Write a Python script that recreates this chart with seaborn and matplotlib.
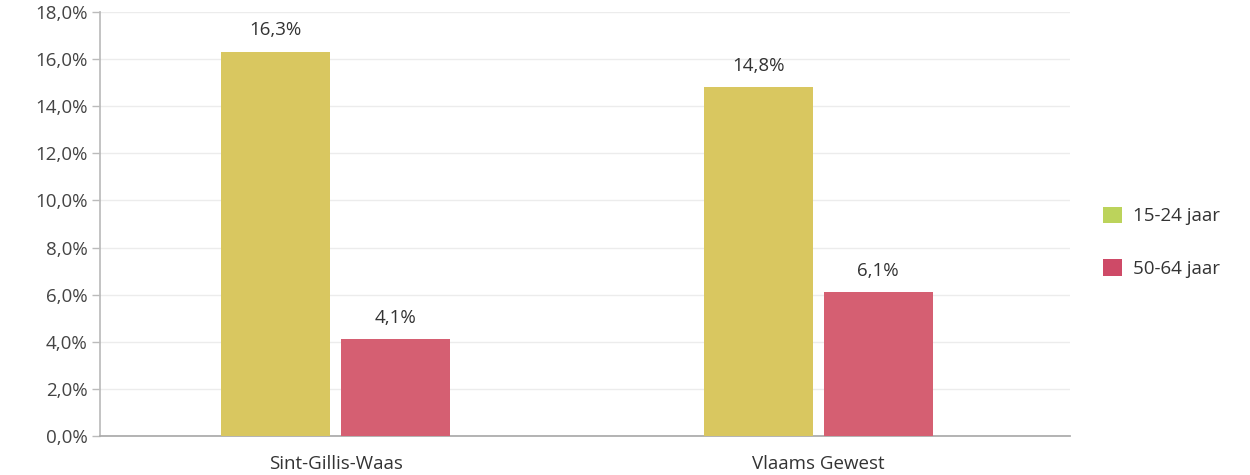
import matplotlib
matplotlib.use("Agg")
import matplotlib.pyplot as plt
from matplotlib.patches import Patch
import seaborn as sns
import pandas as pd

categories = ["Sint-Gillis-Waas", "Vlaams Gewest"]
groups = ["15-24 jaar", "50-64 jaar"]
values_15_24 = [16.3, 14.8]
values_50_64 = [4.1, 6.1]
yticks = [0, 2, 4, 6, 8, 10, 12, 14, 16, 18]

bar_colors = ["#D9C760", "#D55F72"]
legend_colors = ["#BCD35B", "#CE4A67"]

df = pd.DataFrame({
    "regio": categories * 2,
    "groep": [groups[0]] * 2 + [groups[1]] * 2,
    "waarde": values_15_24 + values_50_64,
})

sns.set_theme(style="white")
plt.rcParams["font.family"] = ["Open Sans", "DejaVu Sans"]

fig = plt.figure(figsize=(12.5, 4.75), dpi=100)
ax = fig.add_axes([0.08, 0.082, 0.776, 0.893])

sns.barplot(data=df, x="regio", y="waarde", hue="groep", palette=bar_colors,
            width=0.497, gap=0.091, ax=ax, legend=False, saturation=1, zorder=3,
            edgecolor="none", linewidth=0)

for c in ax.containers:
    labels = [f"{v:.1f}%".replace(".", ",") for v in c.datavalues]
    ax.bar_label(c, labels=labels, padding=9, fontsize=13.5, color="#333333")

ax.set_ylim(0, 18)
ax.set_xlim(-0.488, 1.522)
ax.set_yticks(yticks)
ax.set_yticklabels([f"{t:.1f}%".replace(".", ",") for t in yticks], fontsize=13.5, color="#444444")
ax.tick_params(axis="y", left=True, length=6, color="#BBBBBB", width=1, pad=3)
ax.tick_params(axis="x", bottom=False, labelsize=13.5, labelcolor="#333333", pad=8)
ax.set_xlabel("")
ax.set_ylabel("")
ax.yaxis.grid(True, color="#ECECEC", linewidth=1, zorder=0)
ax.set_axisbelow(True)
for s in ["top", "right"]:
    ax.spines[s].set_visible(False)
ax.spines["left"].set_color("#BBBBBB")
ax.spines["bottom"].set_color("#AAAAAA")

handles = [Patch(facecolor=legend_colors[i], edgecolor="none", label=groups[i]) for i in range(2)]
fig.legend(handles=handles, loc="center left", bbox_to_anchor=(0.869, 0.49), frameon=False,
           fontsize=13.5, handlelength=1.0, handleheight=1.0, labelspacing=1.8,
           handletextpad=0.6, labelcolor="#333333")

fig.savefig("out.png", dpi=100)
